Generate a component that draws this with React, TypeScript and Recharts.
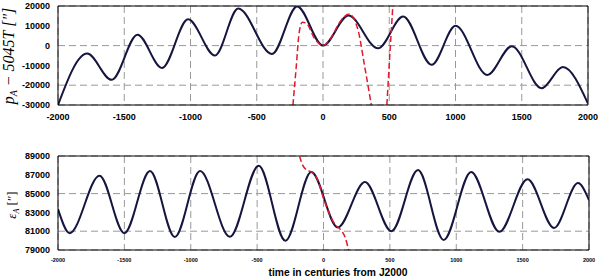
import { CartesianGrid, Line, LineChart, ReferenceLine, XAxis, YAxis } from 'recharts';

// years in centuries from J2000, values in arcseconds
const topBlackX = [-2000, -1780, -1595, -1400, -1215, -1018, -815, -640, -385, -195, 0, 192, 415, 605, 820, 1000, 1240, 1425, 1650, 1810, 2000];
const topBlackV = [-30000, -4000, -17300, 5500, -11300, 13300, -5000, 18700, -4200, 19800, 0, 15200, -1400, 14700, -9700, 10000, -14800, -300, -21500, -10800, -29300];

const topRedX = [-227, -202, -181, -156, -126, -63, 0, 63, 126, 197, 265, 315, 365];
const topRedV = [-30000, -10700, 6000, 11800, 11300, 3500, 0, 4300, 11800, 16000, 7700, -10700, -30000];

const topRed2X = [482, 505, 527];
const topRed2V = [-30000, -4000, 20000];

const botBlackX = [-2000, -1912, -1687, -1500, -1307, -1120, -930, -705, -488, -287, -92, 108, 312, 512, 712, 905, 1112, 1325, 1537, 1737, 1917, 2000];
const botBlackV = [83350, 80790, 86900, 80790, 87400, 80370, 87400, 80400, 87950, 79980, 87300, 81400, 86230, 81000, 87500, 80070, 87300, 80930, 86530, 81350, 86120, 84300];

const botRedX = [-181, -156, -126, -92, -45, 0, 88, 126, 164, 189];
const botRedV = [89000, 88000, 87500, 87300, 86500, 84500, 81700, 81200, 80300, 79000];

const xTicks = [-2000, -1500, -1000, -500, 0, 500, 1000, 1500, 2000];
const topYTicks = [-30000, -20000, -10000, 0, 10000, 20000];
const botYTicks = [79000, 81000, 83000, 85000, 87000, 89000];

const zip = (xs: number[], vs: number[]) => xs.map((x, i) => ({ x, v: vs[i] }));

const topBlack = zip(topBlackX, topBlackV);
const topRed = zip(topRedX, topRedV);
const topRed2 = zip(topRed2X, topRed2V);
const botBlack = zip(botBlackX, botBlackV);
const botRed = zip(botRedX, botRedV);

const NAVY = '#15153f';
const RED = '#e01a2c';
const FONT = '"Liberation Sans", Arial, sans-serif';

export default function App() {
  return (
    <div style={{ position: 'absolute', left: 0, top: 0, width: 600, height: 278, background: '#fff' }}>
      <div style={{ position: 'absolute', left: 0, top: 0 }}>
        <LineChart width={600} height={128} margin={{ top: 6, right: 12, bottom: 0, left: 0 }}>
          <CartesianGrid stroke="#999" strokeDasharray="7 4" />
          <XAxis
            type="number"
            dataKey="x"
            domain={[-2000, 2000]}
            ticks={xTicks}
            height={23}
            tickLine={false}
            tickSize={0}
            tickMargin={9}
            stroke="#000"
            tick={{ fill: '#000', fontSize: 9, fontWeight: 700, fontFamily: FONT }}
            allowDataOverflow
          />
          <YAxis
            type="number"
            domain={[-30000, 20000]}
            ticks={topYTicks}
            width={58}
            tickLine={false}
            tickSize={0}
            tickMargin={8}
            stroke="#000"
            tick={{ fill: '#000', fontSize: 9, fontWeight: 700, fontFamily: FONT }}
            allowDataOverflow
          />
          <ReferenceLine y={20000} stroke="#000" />
          <ReferenceLine x={2000} stroke="#000" />
          <Line data={topBlack} dataKey="v" type="monotone" stroke={NAVY} strokeWidth={2} dot={false} isAnimationActive={false} />
          <Line data={topRed} dataKey="v" type="monotone" stroke={RED} strokeWidth={1.5} strokeDasharray="6 3" dot={false} isAnimationActive={false} />
          <Line data={topRed2} dataKey="v" type="monotone" stroke={RED} strokeWidth={1.5} strokeDasharray="6 3" dot={false} isAnimationActive={false} />
        </LineChart>
      </div>
      <div style={{ position: 'absolute', left: 0, top: 140 }}>
        <LineChart width={600} height={125} margin={{ top: 16, right: 11, bottom: 0, left: 0 }}>
          <CartesianGrid stroke="#999" strokeDasharray="7 4" />
          <XAxis
            type="number"
            dataKey="x"
            domain={[-2000, 2000]}
            ticks={xTicks}
            height={15}
            tickLine={false}
            tickSize={0}
            tickMargin={8}
            stroke="#000"
            tick={{ fill: '#000', fontSize: 5.5, fontWeight: 700, fontFamily: FONT }}
            allowDataOverflow
          />
          <YAxis
            type="number"
            domain={[79000, 89000]}
            ticks={botYTicks}
            width={58}
            tickLine={false}
            tickSize={0}
            tickMargin={8}
            stroke="#000"
            tick={{ fill: '#000', fontSize: 9, fontWeight: 700, fontFamily: FONT }}
            allowDataOverflow
          />
          <ReferenceLine y={89000} stroke="#000" />
          <ReferenceLine x={2000} stroke="#000" />
          <Line data={botBlack} dataKey="v" type="monotone" stroke={NAVY} strokeWidth={2} dot={false} isAnimationActive={false} />
          <Line data={botRed} dataKey="v" type="monotone" stroke={RED} strokeWidth={1.5} strokeDasharray="6 3" dot={false} isAnimationActive={false} />
        </LineChart>
      </div>
      <svg width={600} height={278} style={{ position: 'absolute', left: 0, top: 0, pointerEvents: 'none' }}>
        <text
          transform="translate(14 56) rotate(-90)"
          textAnchor="middle"
          fontFamily='"Liberation Serif", "Times New Roman", serif'
          fontStyle="italic"
          fontSize={16}
          fill="#000"
        >
          p<tspan fontSize={10} dy={3}>A</tspan>
          <tspan dy={-3}> − 5045T [″]</tspan>
        </text>
        <text
          transform="translate(16 205) rotate(-90)"
          textAnchor="middle"
          fontFamily='"Liberation Serif", "Times New Roman", serif'
          fontStyle="italic"
          fontSize={13}
          fill="#000"
        >
          ε<tspan fontSize={8} dy={3}>A</tspan>
          <tspan dy={-3} fontStyle="normal"> [″]</tspan>
        </text>
        <text x={338} y={276} textAnchor="middle" fontFamily={FONT} fontWeight={700} fontSize={10.3} fill="#000">
          time in centuries from J2000
        </text>
      </svg>
    </div>
  );
}
